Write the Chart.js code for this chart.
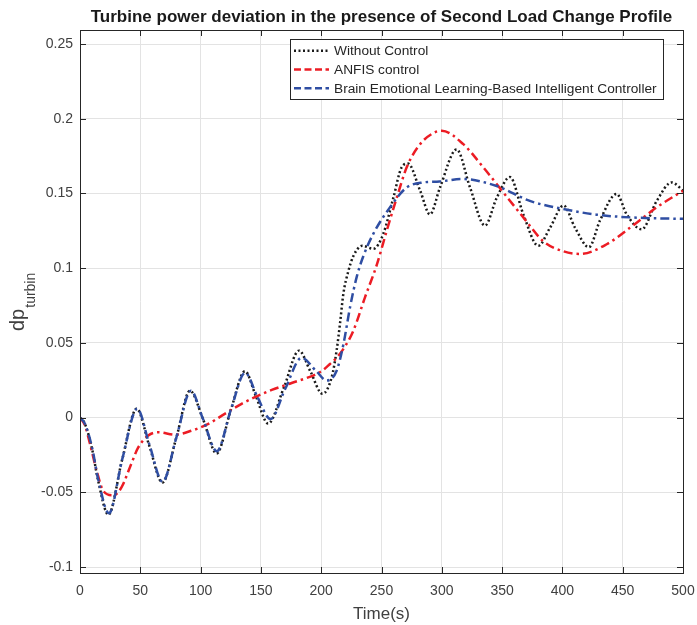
<!DOCTYPE html>
<html>
<head>
<meta charset="utf-8">
<script src="https://cdn.jsdelivr.net/npm/chart.js@4/dist/chart.umd.min.js"></script>
<style>
html,body{margin:0;padding:0;background:#fff;}
#wrap{width:697px;height:625px;position:relative;}
</style>
</head>
<body>
<div id="wrap"><canvas id="c" width="697" height="625"></canvas></div>
<script>
// ---- data ----
const titleText = "Turbine power deviation in the presence of Second Load Change Profile";
const xLabel = "Time(s)";
const yLabelMain = "dp";
const yLabelSub = "turbin";
const seriesNames = ["Without Control", "ANFIS control", "Brain Emotional Learning-Based Intelligent Controller"];
const xTicks = [0, 50, 100, 150, 200, 250, 300, 350, 400, 450, 500];
const yTicks = [-0.1, -0.05, 0, 0.05, 0.1, 0.15, 0.2, 0.25];

const tNoCtrl = [0,4,10,15,23.5,35,47,57.5,68.3,80,91.2,102,113.3,125,136.8,146,156,169,181.6,191,201,208.7,212.8,215.6,218.4,222.5,226.6,234,243.2,251.5,259.8,266.7,272,282,290.2,298.5,312.3,323.4,335.8,345.5,356.5,367.6,380,389.7,401,410.5,422,431.2,445,453.3,465.7,478.2,490.6,500];
const vNoCtrl = [0,-0.004,-0.021,-0.042,-0.065,-0.028,0.006,-0.019,-0.0435,-0.013,0.018,-0.001,-0.024,0.005,0.031,0.014,-0.004,0.02,0.0448,0.031,0.0159,0.027,0.045,0.063,0.083,0.098,0.108,0.115,0.113,0.123,0.147,0.1675,0.170,0.152,0.136,0.154,0.1795,0.154,0.1285,0.147,0.161,0.136,0.115,0.127,0.142,0.127,0.114,0.132,0.1497,0.136,0.126,0.145,0.1574,0.152];

const tAnfis = [0,4,8.3,13.8,19.3,27.6,34.5,41.5,48.3,56.6,65,78.8,92.6,106.4,120,134,147.9,159,175,200,207.3,212.8,220,226.6,236.3,246,254.3,262.6,270.9,282,295.8,300,317.8,334.4,351,367.6,384.2,400.8,414.6,436.7,456,478.2,500];
const vAnfis = [0,-0.005,-0.0176,-0.0355,-0.049,-0.052,-0.0466,-0.033,-0.02,-0.012,-0.0098,-0.0114,-0.0087,-0.0042,0.0025,0.0092,0.0147,0.0185,0.023,0.031,0.0359,0.040,0.048,0.058,0.0805,0.102,0.125,0.147,0.1675,0.183,0.1915,0.192,0.183,0.1675,0.1507,0.134,0.118,0.1113,0.1095,0.116,0.127,0.1407,0.1518];

const tBelbic = [0,4,10,15,24,35,47.5,57.5,68.5,80,92,102,113.5,125,137,147,158,170,183.8,196,204.5,212.8,218.4,223.9,229.4,234.9,243.2,257,270.9,284.7,298,316.5,345.5,373,400.8,428.4,456,500];
const vBelbic = [0,-0.004,-0.02,-0.041,-0.064,-0.028,0.006,-0.018,-0.043,-0.013,0.018,-0.001,-0.0225,0.005,0.030,0.014,-0.001,0.019,0.040,0.031,0.0248,0.0314,0.049,0.0738,0.094,0.108,0.123,0.1407,0.154,0.1574,0.158,0.1597,0.155,0.145,0.1396,0.1358,0.134,0.133];

// ---- styles ----
const colBlack = '#1a1a1a', colRed = '#ec1c24', colBlue = '#2f4ea3';
const dashDot = [9, 4, 2.5, 4];
const dotted = [2, 2.5];
const FONT = "'Liberation Sans', Arial, Helvetica, sans-serif";

function pts(t, v) { return t.map((x, i) => ({x: x, y: v[i]})); }

const styles = [
  {color: colBlack, dash: dotted, order: 2},
  {color: colRed, dash: dashDot, order: 1},
  {color: colBlue, dash: dashDot, order: 0}
];

const decor = {
  id: 'decor',
  afterDraw(chart) {
    const ctx = chart.ctx, a = chart.chartArea;
    const xs = chart.scales.x, ys = chart.scales.y;
    ctx.save();
    // box
    ctx.strokeStyle = '#262626';
    ctx.lineWidth = 1;
    ctx.setLineDash([]);
    ctx.strokeRect(Math.round(a.left) + 0.5, Math.round(a.top) + 0.5, Math.round(a.right - a.left), Math.round(a.bottom - a.top));
    // inward ticks
    const tl = 6;
    ctx.beginPath();
    xTicks.forEach(v => {
      const px = Math.round(xs.getPixelForValue(v)) + 0.5;
      ctx.moveTo(px, a.bottom); ctx.lineTo(px, a.bottom - tl);
      ctx.moveTo(px, a.top); ctx.lineTo(px, a.top + tl);
    });
    yTicks.forEach(v => {
      const py = Math.round(ys.getPixelForValue(v)) + 0.5;
      ctx.moveTo(a.left, py); ctx.lineTo(a.left + tl, py);
      ctx.moveTo(a.right, py); ctx.lineTo(a.right - tl, py);
    });
    ctx.stroke();

    // title
    ctx.fillStyle = '#1a1a1a';
    ctx.font = 'bold 17px ' + FONT;
    ctx.textAlign = 'center';
    ctx.textBaseline = 'alphabetic';
    ctx.fillText(titleText, (a.left + a.right) / 2, 21.5);

    // x label
    ctx.fillStyle = '#404040';
    ctx.font = '17px ' + FONT;
    ctx.fillText(xLabel, (a.left + a.right) / 2, 619);

    // y label with subscript
    ctx.save();
    ctx.translate(24, 331);
    ctx.rotate(-Math.PI / 2);
    ctx.textAlign = 'left';
    ctx.font = '20px ' + FONT;
    ctx.fillText(yLabelMain, 0, 0);
    const w = ctx.measureText(yLabelMain).width;
    ctx.font = '14px ' + FONT;
    ctx.fillText(yLabelSub, w + 1, 11);
    ctx.restore();

    // legend
    const lx = 290.5, ly = 39.5, lw = 373, lh = 60;
    ctx.fillStyle = '#ffffff';
    ctx.fillRect(lx, ly, lw, lh);
    ctx.strokeStyle = '#262626';
    ctx.lineWidth = 1;
    ctx.strokeRect(lx, ly, lw, lh);
    const rows = [50.7, 69.5, 88.3];
    seriesNames.forEach((name, i) => {
      const st = styles[i];
      ctx.save();
      ctx.strokeStyle = st.color;
      ctx.lineWidth = 2.5;
      ctx.setLineDash(i === 0 ? dotted : [7, 3.5]);
      ctx.beginPath();
      ctx.moveTo(294, rows[i]);
      ctx.lineTo(329, rows[i]);
      ctx.stroke();
      ctx.restore();
      ctx.fillStyle = '#262626';
      ctx.font = '13.7px ' + FONT;
      ctx.textAlign = 'left';
      ctx.textBaseline = 'middle';
      ctx.fillText(name, 334, rows[i] + 0.5);
    });
    ctx.restore();
  }
};

const datasets = [
  {label: seriesNames[0], data: pts(tNoCtrl, vNoCtrl)},
  {label: seriesNames[1], data: pts(tAnfis, vAnfis)},
  {label: seriesNames[2], data: pts(tBelbic, vBelbic)}
].map((d, i) => Object.assign(d, {
  borderColor: styles[i].color,
  backgroundColor: styles[i].color,
  borderDash: styles[i].dash,
  borderWidth: 2.5,
  borderCapStyle: 'butt',
  pointRadius: 0,
  fill: false,
  cubicInterpolationMode: 'monotone',
  order: styles[i].order
}));

function fmt(v) {
  const r = Math.round(v * 1000) / 1000;
  return String(r);
}

new Chart(document.getElementById('c'), {
  type: 'line',
  data: {datasets: datasets},
  options: {
    responsive: false,
    animation: false,
    devicePixelRatio: 1,
    layout: {padding: {top: 30, right: 14, left: 0, bottom: 0}},
    plugins: {legend: {display: false}, title: {display: false}, tooltip: {enabled: false}},
    scales: {
      x: {
        type: 'linear', min: 0, max: 500,
        afterBuildTicks: s => { s.ticks = xTicks.map(v => ({value: v})); },
        afterFit: s => { s.height = 52; s.paddingLeft = 0; s.paddingRight = 0; },
        ticks: {color: '#404040', font: {size: 14, family: FONT}, padding: 10, maxRotation: 0, callback: v => fmt(v)},
        grid: {color: '#e3e3e3', lineWidth: 1, drawTicks: false},
        border: {display: false}
      },
      y: {
        type: 'linear', min: -0.104, max: 0.2594,
        afterBuildTicks: s => { s.ticks = yTicks.map(v => ({value: v})); },
        afterFit: s => { s.width = 80; s.paddingTop = 0; s.paddingBottom = 0; },
        ticks: {color: '#404040', font: {size: 14, family: FONT}, padding: 7, callback: v => fmt(v)},
        grid: {color: '#e3e3e3', lineWidth: 1, drawTicks: false},
        border: {display: false}
      }
    }
  },
  plugins: [decor]
});
</script>
</body>
</html>
